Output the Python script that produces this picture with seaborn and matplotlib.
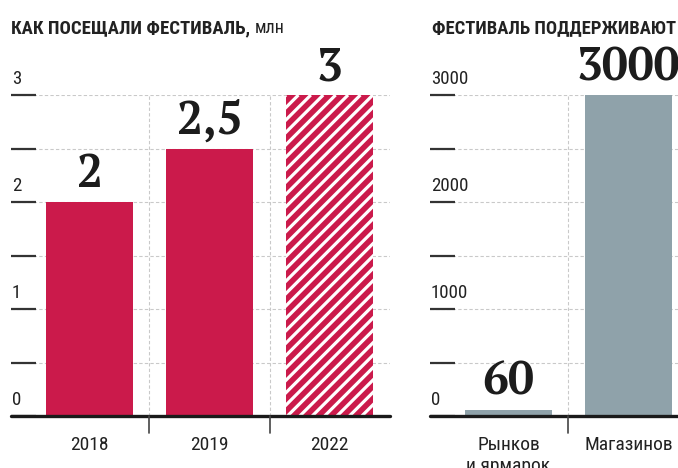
import matplotlib
matplotlib.use('Agg')
import matplotlib.pyplot as plt
import seaborn as sns
import pandas as pd
import numpy as np
from matplotlib import font_manager as fm

# ---- data ----
years = ['2018', '2019', '2022']
visits = [2, 2.5, 3]
visit_labels = ['2', '2,5', '3']
visit_ticks = [0, 1, 2, 3]

support_cats = ['Рынков\nи ярмарок', 'Магазинов']
support_vals = [60, 3000]
support_labels = ['60', '3000']
support_ticks = [0, 1000, 2000, 3000]

title_left = 'КАК ПОСЕЩАЛИ ФЕСТИВАЛЬ,'
title_left_unit = 'млн'
title_right = 'ФЕСТИВАЛЬ ПОДДЕРЖИВАЮТ'

RED = '#CB1A4B'
GREY = '#8FA2AA'
INK = '#222222'

sns.set_theme(style='white')
names = {f.name for f in fm.fontManager.ttflist}
narrow = next((n for n in ['Roboto Condensed', 'PT Sans Narrow', 'Fira Sans Condensed']
               if n in names), 'Roboto')
serif = next((n for n in ['PT Serif', 'Liberation Serif'] if n in names), 'DejaVu Serif')
plt.rcParams['font.family'] = [narrow, 'DejaVu Sans']

W, H = 678, 468
fig = plt.figure(figsize=(W / 100, H / 100), dpi=100)
fig.patch.set_facecolor('white')


def ax_at(x0, x1, ytop, ybot):
    return fig.add_axes([x0 / W, 1 - ybot / H, (x1 - x0) / W, (ybot - ytop) / H])


ax1 = ax_at(11, 390, 95, 416)
ax2 = ax_at(430, 678, 95, 416)

df1 = pd.DataFrame({'year': years, 'visits': visits})
df2 = pd.DataFrame({'cat': support_cats, 'val': support_vals})

sns.barplot(data=df1, x='year', y='visits', color=RED, saturation=1, width=0.725,
            errorbar=None, linewidth=0, ax=ax1)
sns.barplot(data=df2, x='cat', y='val', color=GREY, saturation=1, width=0.725,
            errorbar=None, linewidth=0, ax=ax2)

ax1.set_xlim(-0.654, 2.504)
ax1.set_ylim(0, 3)
ax2.set_xlim(-0.654, 1.4125)
ax2.set_ylim(0, 3000)


def style(ax, ymax, ticklabels_vals, tick_texts, values_text):
    for s in ax.spines.values():
        s.set_visible(False)
    ax.set_xlabel('')
    ax.set_ylabel('')
    ax.set_facecolor('white')
    ax.set_yticks(np.linspace(0, ymax, 7))
    ax.tick_params(axis='y', left=True, direction='in', length=18, width=1.6,
                   color='#333333', labelleft=False)
    ax.yaxis.grid(True, color='#c9c9c9', linestyle=(0, (3, 2)), linewidth=0.8)
    ax.xaxis.grid(False)
    ax.set_axisbelow(True)
    ax.tick_params(axis='x', bottom=False, length=0, pad=14.5, labelsize=14,
                   labelcolor=INK)
    # baseline
    ax.axhline(0, color='#1a1a1a', lw=2.4, clip_on=False, zorder=6)
    # category dividers
    n = len(ax.get_xticks())
    bt = ax.get_xaxis_transform()
    for b in np.arange(n - 1) + 0.5:
        ax.axvline(b, color='#c9c9c9', linestyle=(0, (3, 2)), lw=0.8, zorder=0.6)
        ax.plot([b, b], [0, -17 / 321], transform=bt, color='#444444', lw=1.2,
                clip_on=False, zorder=6)
    # y labels above gridlines
    yt = ax.get_yaxis_transform()
    for v, t in zip(ticklabels_vals, tick_texts):
        ax.annotate(t, xy=(0, v), xycoords=yt, xytext=(0.6, 7.6),
                    textcoords='offset points', ha='left', va='baseline',
                    fontsize=13.6, color=INK, annotation_clip=False)
    # value labels
    for p, lab in zip(ax.patches, values_text):
        ax.annotate(lab, xy=(p.get_x() + p.get_width() / 2, p.get_height()),
                    xytext=(0, 10.5), textcoords='offset points', ha='center',
                    va='baseline', fontsize=33, fontweight='bold', family=serif,
                    color='#1c1c1c', annotation_clip=False, zorder=7)


style(ax1, 3, visit_ticks, [str(v) for v in visit_ticks], visit_labels)
style(ax2, 3000, support_ticks, [str(v) for v in support_ticks], support_labels)

# hatched 2022 bar: white diagonal stripes clipped to the bar
p = ax1.patches[2]
o = ax1.transData.transform([(0, 0), (1, 1)])
pxx, pxy = o[1] - o[0]
x0, w, h = p.get_x(), p.get_width(), p.get_height()
hpx = h * pxy
period = 12.4
for u in np.arange(-hpx, w * pxx + period, period):
    ln, = ax1.plot([x0 + u / pxx, x0 + (u + hpx) / pxx], [0, h], color='white',
                   lw=2.3, solid_capstyle='butt', zorder=p.get_zorder() + 0.1)
    ln.set_clip_path(p)

# titles
t1 = fig.text(11 / W, 1 - 33 / H, title_left, fontsize=13.5, fontweight='bold',
              color=INK, va='baseline', ha='left')
fig.canvas.draw()
bb = t1.get_window_extent()
fig.text((bb.x1 + 5) / W, 1 - 33 / H, title_left_unit, fontsize=13, color=INK,
         va='baseline', ha='left')
t2 = fig.text(432 / W, 1 - 33 / H, title_right, fontsize=14, fontweight='bold',
              color=INK, va='baseline', ha='left')
fig.canvas.draw()
# keep the right title inside the figure
bb2 = t2.get_window_extent()
if bb2.x1 > W - 1:
    t2.set_fontsize(14 * (W - 1 - bb2.x0) / bb2.width)

fig.savefig('out.png', dpi=100, facecolor='white')
